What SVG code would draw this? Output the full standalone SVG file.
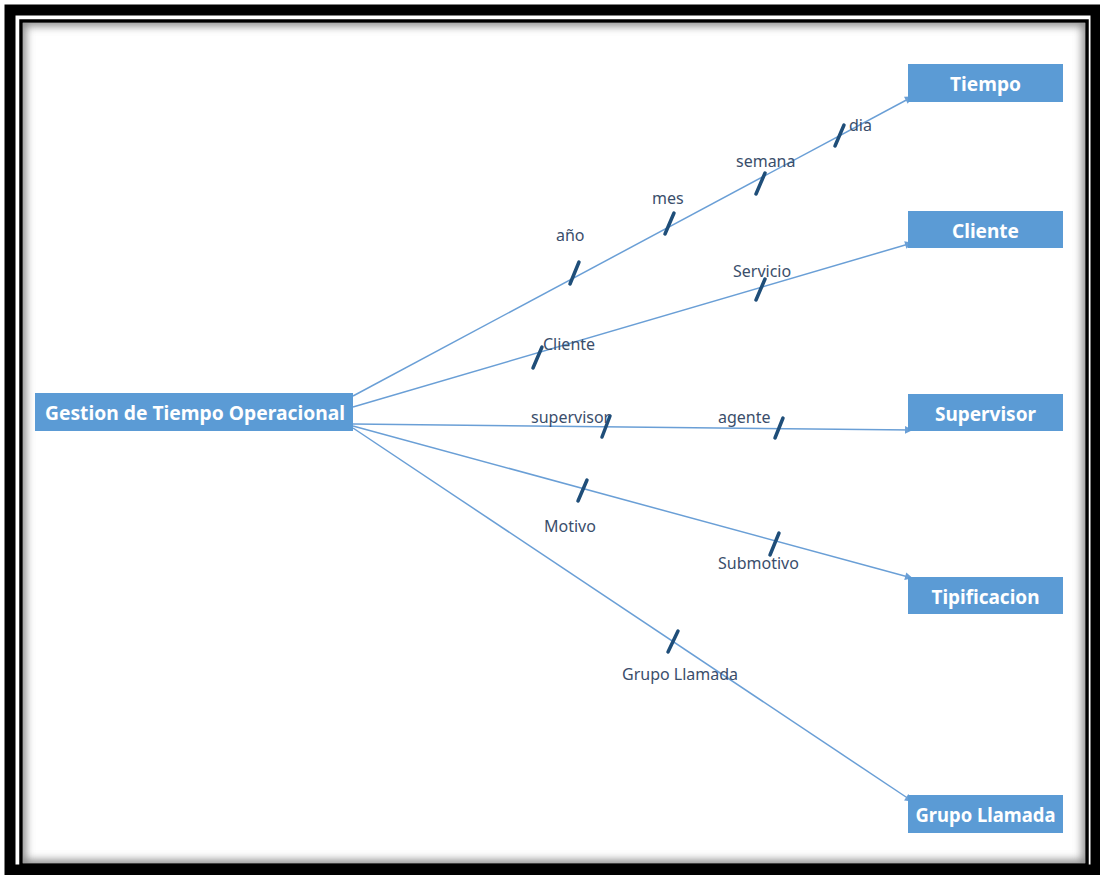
<svg xmlns="http://www.w3.org/2000/svg" width="1100" height="875" viewBox="0 0 1100 875">
<defs>
<style>
.box{fill:#5B9BD5;}
.bt{font-family:"Noto Sans","Liberation Sans",sans-serif;font-weight:bold;font-size:20px;fill:#fff;text-anchor:middle;}
.con{stroke:#6A9FD6;stroke-width:1.5;fill:none;marker-end:url(#arr);}
.tick{stroke:#1F4E79;stroke-width:3.5;stroke-linecap:round;}
.lb{font-family:"Noto Sans","Liberation Sans",sans-serif;font-size:16px;fill:#3A4E6B;}
</style>
<marker id="arr" viewBox="0 0 10 10" refX="9" refY="5" markerWidth="6" markerHeight="6" orient="auto" markerUnits="userSpaceOnUse" overflow="visible">
<path d="M0,0 L10,5 L0,10 z" fill="#6A9FD6" transform="scale(1.3) translate(-2,-1.15)"/>
</marker>
<filter id="sh" x="-5%" y="-5%" width="110%" height="110%"><feGaussianBlur stdDeviation="4"/></filter>
<clipPath id="ic"><rect x="23" y="23" width="1062" height="840"/></clipPath>
</defs>
<rect x="0" y="0" width="1100" height="875" fill="#fff"/>
<g id="frame">
<rect x="10" y="10" width="1086" height="860" fill="none" stroke="#000" stroke-width="11"/>
<rect x="21" y="21" width="1066" height="844" fill="none" stroke="#000" stroke-width="3.5"/>
<g clip-path="url(#ic)"><rect x="21" y="21" width="1066" height="844" fill="none" stroke="#888" stroke-width="10" filter="url(#sh)"/></g>
</g>
<g id="connectors">
<line class="con" x1="353" y1="396" x2="912" y2="97"/>
<line class="con" x1="353" y1="407" x2="912" y2="243"/>
<line class="con" x1="353" y1="424" x2="912" y2="430"/>
<line class="con" x1="353" y1="426" x2="912" y2="578"/>
<line class="con" x1="353" y1="428" x2="912" y2="801"/>
<line class="tick" x1="570" y1="284" x2="579" y2="262"/>
<line class="tick" x1="665" y1="234" x2="674" y2="213"/>
<line class="tick" x1="756" y1="194" x2="765" y2="173"/>
<line class="tick" x1="835" y1="146" x2="844" y2="125"/>
<line class="tick" x1="533" y1="368" x2="542" y2="347"/>
<line class="tick" x1="756" y1="300" x2="765" y2="279"/>
<line class="tick" x1="602" y1="437" x2="610" y2="416"/>
<line class="tick" x1="775" y1="438" x2="783" y2="418"/>
<line class="tick" x1="578" y1="501" x2="587" y2="480"/>
<line class="tick" x1="770" y1="555" x2="779" y2="533"/>
<line class="tick" x1="668" y1="652" x2="678" y2="631"/>
<text class="lb" x="556" y="241">año</text>
<text class="lb" x="652" y="204">mes</text>
<text class="lb" x="736" y="167">semana</text>
<text class="lb" x="849" y="131">dia</text>
<text class="lb" x="543" y="350">Cliente</text>
<text class="lb" x="733" y="277">Servicio</text>
<text class="lb" x="531" y="423">supervisor</text>
<text class="lb" x="718" y="423">agente</text>
<text class="lb" x="544" y="532">Motivo</text>
<text class="lb" x="718" y="569">Submotivo</text>
<text class="lb" x="622" y="680">Grupo Llamada</text>
</g>
<g id="n-main"><rect class="box" x="35" y="393" width="318" height="38"/><text class="bt" x="195" y="420" textLength="300" lengthAdjust="spacingAndGlyphs">Gestion de Tiempo Operacional</text></g>
<g id="n-tiempo"><rect class="box" x="908" y="64" width="155" height="38"/><text class="bt" x="985.5" y="91" textLength="71" lengthAdjust="spacingAndGlyphs">Tiempo</text></g>
<g id="n-cliente"><rect class="box" x="908" y="211" width="155" height="37"/><text class="bt" x="985.5" y="238" textLength="67" lengthAdjust="spacingAndGlyphs">Cliente</text></g>
<g id="n-supervisor"><rect class="box" x="908" y="394" width="155" height="37"/><text class="bt" x="985.5" y="421" textLength="101" lengthAdjust="spacingAndGlyphs">Supervisor</text></g>
<g id="n-tipificacion"><rect class="box" x="908" y="577" width="155" height="37"/><text class="bt" x="985.5" y="604" textLength="108" lengthAdjust="spacingAndGlyphs">Tipificacion</text></g>
<g id="n-grupo"><rect class="box" x="908" y="795" width="155" height="38"/><text class="bt" x="985.5" y="822" textLength="140" lengthAdjust="spacingAndGlyphs">Grupo Llamada</text></g>
</svg>
